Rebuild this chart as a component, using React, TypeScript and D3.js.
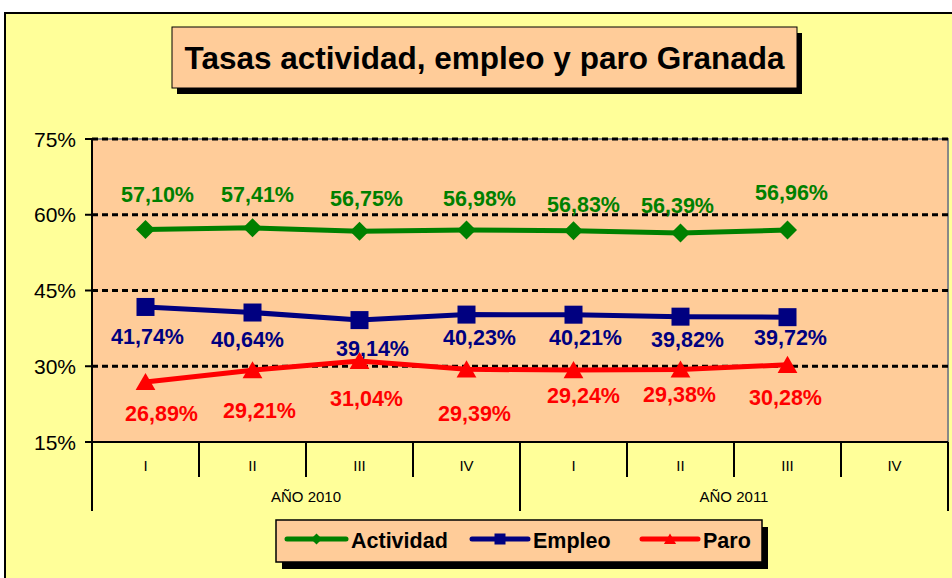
import React from "react";
import * as d3 from "d3";

const quarters = ["I", "II", "III", "IV", "I", "II", "III", "IV"];
const years = ["AÑO 2010", "AÑO 2011"];
const yTicks = [15, 30, 45, 60, 75];

const actividad = [57.10, 57.41, 56.75, 56.98, 56.83, 56.39, 56.96];
const empleo = [41.74, 40.64, 39.14, 40.23, 40.21, 39.82, 39.72];
const paro = [26.89, 29.21, 31.04, 29.39, 29.24, 29.38, 30.28];

// manual label nudges (as placed in the original chart)
const actividadNudgeX = [12, 5, 7, 13, 10, -3, 4];
const actividadNudgeY = [-27, -26, -25, -24, -19, -20, -30];
const empleoNudgeX = [2, -5, 13, 13, 12, 7, 3];
const empleoNudgeY = [37, 34, 36, 30, 30, 30, 28];
const paroNudgeX = [16, 7, 7, 8, 10, -1, -2];
const paroNudgeY = [39, 48, 45, 52, 33, 33, 40];

const W = 952;
const H = 578;
const plot = { left: 92, right: 948, top: 139, bottom: 442 };

const fmt = (v: number) => v.toFixed(2).replace(".", ",") + "%";

export default function App() {
  const x = d3
    .scaleBand<number>()
    .domain(d3.range(quarters.length))
    .range([plot.left, plot.right])
    .paddingInner(0)
    .paddingOuter(0);
  const y = d3.scaleLinear().domain([15, 75]).range([plot.bottom, plot.top]);
  const cx = (i: number) => (x(i) as number) + x.bandwidth() / 2;

  const line = d3
    .line<number>()
    .x((_, i) => cx(i))
    .y((d) => y(d));

  const series = [
    { name: "Actividad", data: actividad, color: "#008000", shape: "diamond", nx: actividadNudgeX, ny: actividadNudgeY },
    { name: "Empleo", data: empleo, color: "#000080", shape: "square", nx: empleoNudgeX, ny: empleoNudgeY },
    { name: "Paro", data: paro, color: "#FF0000", shape: "triangle", nx: paroNudgeX, ny: paroNudgeY },
  ];

  const marker = (shape: string, px: number, py: number, color: string, s: number, key?: any) => {
    if (shape === "diamond") {
      const h = s / 2;
      return <path key={key} d={`M${px},${py - h}L${px + h},${py}L${px},${py + h}L${px - h},${py}Z`} fill={color} />;
    }
    if (shape === "square") {
      const h = s / 2;
      return <rect key={key} x={px - h} y={py - h} width={s} height={s} fill={color} />;
    }
    const h = s / 2;
    return <path key={key} d={`M${px},${py - h}L${px + h * 1.1},${py + h * 0.9}L${px - h * 1.1},${py + h * 0.9}Z`} fill={color} />;
  };

  const legendItems = [
    { s: series[0], x0: 287, x1: 346, tx: 351 },
    { s: series[1], x0: 472, x1: 528, tx: 533 },
    { s: series[2], x0: 642, x1: 698, tx: 703 },
  ];

  return (
    <svg
      width={W}
      height={H}
      style={{ position: "absolute", left: 0, top: 0, fontFamily: "Arial, 'Liberation Sans', sans-serif" }}
    >
      <rect x={0} y={0} width={W} height={H} fill="#ffffff" />
      <rect x={5} y={13} width={W + 20} height={H + 20} fill="#FFFF99" stroke="#000" strokeWidth={2} />

      {/* title */}
      <rect x={177} y={33} width={625} height={61} fill="#000" />
      <rect x={172} y={27} width={625} height={61} fill="#FFCC99" stroke="#000" strokeWidth={1} />
      <text x={484.5} y={69} textAnchor="middle" fontSize={31.5} fontWeight="bold" fill="#000">
        Tasas actividad, empleo y paro Granada
      </text>

      {/* plot area */}
      <rect x={plot.left} y={plot.top} width={plot.right - plot.left} height={plot.bottom - plot.top} fill="#FFCC99" stroke="#888" strokeWidth={2} />

      {/* gridlines */}
      {yTicks.filter((t) => t !== 15).map((t) => (
        <line key={t} x1={plot.left} x2={plot.right} y1={y(t)} y2={y(t)} stroke="#000" strokeWidth={3} strokeDasharray="6,4" />
      ))}

      {/* y axis */}
      <line x1={plot.left} x2={plot.left} y1={plot.top} y2={plot.bottom} stroke="#000" strokeWidth={2} />
      {yTicks.map((t) => (
        <g key={t}>
          <line x1={plot.left - 7} x2={plot.left} y1={y(t)} y2={y(t)} stroke="#000" strokeWidth={2} />
          <text x={76} y={y(t) + 7.5} textAnchor="end" fontSize={21} fill="#000">
            {t}%
          </text>
        </g>
      ))}

      {/* x axis */}
      <line x1={plot.left - 7} x2={plot.right} y1={plot.bottom} y2={plot.bottom} stroke="#000" strokeWidth={2} />
      {d3.range(quarters.length + 1).map((i) => {
        const xx = i < quarters.length ? (x(i) as number) : plot.right;
        const isYear = i % 4 === 0;
        return (
          <line key={i} x1={xx} x2={xx} y1={plot.bottom} y2={isYear ? 511 : 477} stroke="#000" strokeWidth={2} />
        );
      })}
      {quarters.map((q, i) => (
        <text key={i} x={cx(i)} y={470.5} textAnchor="middle" fontSize={15} fill="#000">
          {q}
        </text>
      ))}
      {years.map((yr, j) => {
        const xs = (x(j * 4) as number);
        const xe = j * 4 + 4 < quarters.length ? (x(j * 4 + 4) as number) : plot.right;
        return (
          <text key={yr} x={(xs + xe) / 2} y={502} textAnchor="middle" fontSize={15} fill="#000">
            {yr}
          </text>
        );
      })}

      {/* series */}
      {series.map((s) => (
        <g key={s.name}>
          <path d={line(s.data) || ""} fill="none" stroke={s.color} strokeWidth={5} />
          {s.data.map((v, i) => marker(s.shape, cx(i), y(v), s.color, s.shape === "diamond" ? 19 : 18, i))}
          {s.data.map((v, i) => (
            <text key={"l" + i} x={cx(i) + s.nx[i]} y={y(v) + s.ny[i]} textAnchor="middle" fontSize={21.5} fontWeight="bold" fill={s.color}>
              {fmt(v)}
            </text>
          ))}
        </g>
      ))}

      {/* legend */}
      <rect x={282} y={527} width={486} height={42} fill="#000" />
      <rect x={276} y={520} width={486} height={42} fill="#FFCC99" stroke="#000" strokeWidth={1.5} />
      {legendItems.map(({ s, x0, x1, tx }) => (
        <g key={s.name}>
          <line x1={x0} x2={x1} y1={539} y2={539} stroke={s.color} strokeWidth={5} strokeLinecap="round" />
          {marker(s.shape, (x0 + x1) / 2, 539, s.color, 11)}
          <text x={tx} y={548} fontSize={21.5} fontWeight="bold" fill="#000">
            {s.name}
          </text>
        </g>
      ))}
    </svg>
  );
}
